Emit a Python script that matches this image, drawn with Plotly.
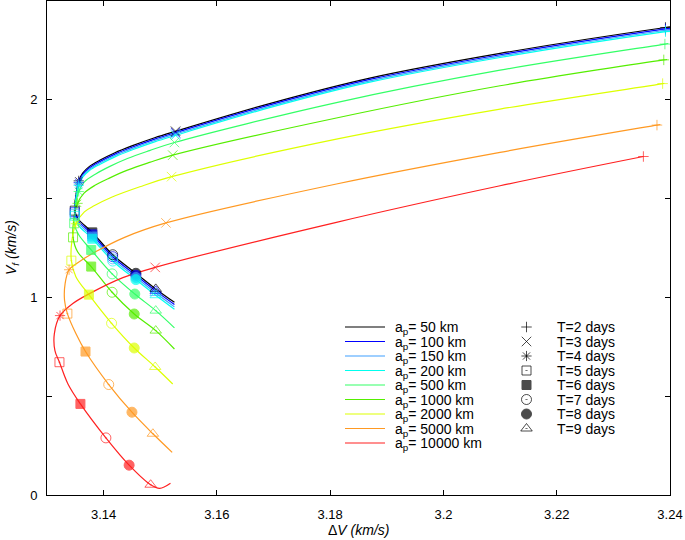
import plotly.graph_objects as go

# ---------------- data ----------------
ap_labels = ["50", "100", "150", "200", "500", "1000", "2000", "5000", "10000"]
line_colors = ["#000000", "#0000ff", "#3fa0ff", "#00ffee", "#33ff66",
               "#55ee00", "#ddff00", "#ff9922", "#ff2020"]
t_labels = ["T=2 days", "T=3 days", "T=4 days", "T=5 days",
            "T=6 days", "T=7 days", "T=8 days", "T=9 days"]
t_symbols = ["cross-thin-open", "x-thin-open", "asterisk-open", "square-open-dot",
             "square", "circle-open-dot", "circle", "triangle-up-open-dot"]

# curves (DeltaV, Vf); a_p = 50 ... 200 km share the same DeltaV samples
dv_top = [3.2400, 3.2392, 3.2100, 3.1870, 3.1693, 3.1527, 3.1490, 3.1451, 3.1419, 3.1393,
          3.1375, 3.1363, 3.1356, 3.1351, 3.1349, 3.1355, 3.1380, 3.1416, 3.1457, 3.1492,
          3.1525]
vf_50 = [2.369, 2.366, 2.235, 2.110, 1.981, 1.841, 1.808, 1.768, 1.731, 1.694,
         1.663, 1.629, 1.590, 1.515, 1.439, 1.398, 1.329, 1.216, 1.122, 1.043, 0.975]
vf_100 = [2.362, 2.359, 2.228, 2.103, 1.974, 1.834, 1.801, 1.761, 1.724, 1.687,
          1.656, 1.622, 1.582, 1.507, 1.431, 1.389, 1.319, 1.206, 1.112, 1.033, 0.964]
vf_150 = [2.355, 2.352, 2.221, 2.096, 1.967, 1.827, 1.794, 1.754, 1.717, 1.680,
          1.649, 1.615, 1.574, 1.499, 1.423, 1.379, 1.308, 1.195, 1.101, 1.022, 0.952]
vf_200 = [2.348, 2.345, 2.214, 2.089, 1.960, 1.820, 1.787, 1.747, 1.710, 1.673,
          1.642, 1.608, 1.566, 1.490, 1.413, 1.367, 1.297, 1.184, 1.090, 1.011, 0.940]

dv_500 = [3.2397, 3.2391, 3.2100, 3.1811, 3.1525, 3.1481, 3.1442, 3.1411, 3.1386, 3.1366,
          3.1356, 3.1350, 3.1348, 3.1356, 3.1378, 3.1415, 3.1455, 3.1492, 3.1525]
vf_500 = [2.285, 2.282, 2.150, 1.986, 1.784, 1.743, 1.703, 1.663, 1.625, 1.585,
          1.536, 1.454, 1.375, 1.317, 1.240, 1.119, 1.017, 0.933, 0.846]

dv_1000 = [3.2395, 3.2389, 3.2100, 3.1811, 3.1522, 3.1481, 3.1442, 3.1411, 3.1384, 3.1365,
           3.1354, 3.1347, 3.1346, 3.1354, 3.1378, 3.1415, 3.1454, 3.1492, 3.1525]
vf_1000 = [2.204, 2.202, 2.071, 1.908, 1.720, 1.683, 1.644, 1.605, 1.566, 1.526,
           1.476, 1.388, 1.304, 1.231, 1.156, 1.026, 0.916, 0.832, 0.739]

dv_2000 = [3.2390, 3.2387, 3.2100, 3.1811, 3.1520, 3.1464, 3.1414, 3.1384, 3.1366,
           3.1351, 3.1344, 3.1343, 3.1351, 3.1374, 3.1414, 3.1454, 3.1491, 3.1522]
vf_2000 = [2.084, 2.082, 1.953, 1.801, 1.611, 1.560, 1.507, 1.465, 1.433,
           1.373, 1.287, 1.186, 1.105, 1.014, 0.869, 0.744, 0.648, 0.562]

dv_5000 = [3.2383, 3.2377, 3.2100, 3.1811, 3.1510, 3.1437, 3.1384, 3.1355, 3.1339,
           3.1332, 3.1331, 3.1336, 3.1351, 3.1368, 3.1409, 3.1450, 3.1487, 3.1521]
vf_5000 = [1.875, 1.872, 1.734, 1.574, 1.377, 1.304, 1.228, 1.177, 1.140,
           1.070, 0.984, 0.918, 0.817, 0.726, 0.559, 0.419, 0.310, 0.216]

dv_10000 = [3.2353, 3.2100, 3.1811, 3.1491, 3.1434, 3.1375, 3.1345, 3.1323, 3.1313,
            3.1314, 3.1322, 3.1337, 3.1359, 3.1404, 3.1445, 3.1483, 3.1499, 3.1518]
vf_10000 = [1.713, 1.565, 1.380, 1.152, 1.100, 1.019, 0.968, 0.908, 0.817,
            0.731, 0.672, 0.562, 0.461, 0.289, 0.151, 0.052, 0.034, 0.060]

# marker points at T = 2 ... 9 days
mdv_top = [3.2392, 3.1527, 3.1356, 3.1349, 3.1380, 3.1416, 3.1457, 3.1492]
mvf_50 = [2.366, 1.841, 1.590, 1.439, 1.329, 1.216, 1.122, 1.043]
mvf_100 = [2.359, 1.834, 1.582, 1.431, 1.319, 1.206, 1.112, 1.033]
mvf_150 = [2.352, 1.827, 1.574, 1.423, 1.308, 1.195, 1.101, 1.022]
mvf_200 = [2.345, 1.820, 1.566, 1.413, 1.297, 1.184, 1.090, 1.011]
mdv_500 = [3.2391, 3.1525, 3.1356, 3.1348, 3.1378, 3.1415, 3.1455, 3.1492]
mvf_500 = [2.282, 1.784, 1.536, 1.375, 1.240, 1.119, 1.017, 0.933]
mdv_1000 = [3.2389, 3.1522, 3.1354, 3.1346, 3.1378, 3.1415, 3.1454, 3.1492]
mvf_1000 = [2.202, 1.720, 1.476, 1.304, 1.156, 1.026, 0.916, 0.832]
mdv_2000 = [3.2387, 3.1520, 3.1351, 3.1343, 3.1374, 3.1414, 3.1454, 3.1491]
mvf_2000 = [2.082, 1.611, 1.373, 1.186, 1.014, 0.869, 0.744, 0.648]
mdv_5000 = [3.2377, 3.1510, 3.1339, 3.1336, 3.1368, 3.1409, 3.1450, 3.1487]
mvf_5000 = [1.872, 1.377, 1.140, 0.918, 0.726, 0.559, 0.419, 0.310]
mdv_10000 = [3.2353, 3.1491, 3.1323, 3.1322, 3.1359, 3.1404, 3.1445, 3.1483]
mvf_10000 = [1.713, 1.152, 0.908, 0.672, 0.461, 0.289, 0.151, 0.052]

x_ticks = [3.14, 3.16, 3.18, 3.20, 3.22, 3.24]
x_ticktext = ["3.14", "3.16", "3.18", "3.2", "3.22", "3.24"]
y_ticks = [0, 0.5, 1, 1.5, 2, 2.5]
y_ticktext = ["0", "", "1", "", "2", ""]

curves = [
    (dv_top, vf_50, mdv_top, mvf_50),
    (dv_top, vf_100, mdv_top, mvf_100),
    (dv_top, vf_150, mdv_top, mvf_150),
    (dv_top, vf_200, mdv_top, mvf_200),
    (dv_500, vf_500, mdv_500, mvf_500),
    (dv_1000, vf_1000, mdv_1000, mvf_1000),
    (dv_2000, vf_2000, mdv_2000, mvf_2000),
    (dv_5000, vf_5000, mdv_5000, mvf_5000),
    (dv_10000, vf_10000, mdv_10000, mvf_10000),
]

# ---------------- figure ----------------
W, H = 685, 540
ML, MR, MT, MB = 47, 15, 1, 45
FONT = "Liberation Sans, Arial, Helvetica, sans-serif"
marker_sizes = [7.5, 9.5, 8.5, 9, 9, 10, 10, 10]

fig = go.Figure()

for (cx, cy, mx, my), col in zip(curves, line_colors):
    fig.add_trace(go.Scatter(
        x=cx, y=cy, mode="lines",
        line=dict(color=col, width=1.2, shape="spline", smoothing=1.0),
        showlegend=False, hoverinfo="skip"))
for (cx, cy, mx, my), col in zip(curves, line_colors):
    fig.add_trace(go.Scatter(
        x=mx, y=my, mode="markers",
        marker=dict(symbol=t_symbols, size=marker_sizes,
                    color=col, line=dict(color=col, width=1)),
        showlegend=False, hoverinfo="skip", cliponaxis=False))

# ---- manual key, drawn on an overlay axis measured in page pixels ----
row0, row_step = 327.0, 14.5
key_line_x0, key_line_x1, key_text_x = 345, 385, 393
key_mark_x, key_mark_text_x = 526.5, 555

for i, (lab, col) in enumerate(zip(ap_labels, line_colors)):
    yy = row0 + i * row_step
    fig.add_trace(go.Scatter(
        x=[key_line_x0, key_line_x1], y=[yy, yy], xaxis="x2", yaxis="y2",
        mode="lines", line=dict(color=col, width=1.2),
        showlegend=False, hoverinfo="skip"))
    fig.add_annotation(x=key_text_x, y=yy, xref="x2", yref="y2",
                       text="a<sub>p</sub>= %s km" % lab, showarrow=False,
                       xanchor="left", yanchor="middle", yshift=-1,
                       font=dict(family=FONT, size=14, color="black"))

key_y = [row0 + i * row_step for i in range(len(t_labels))]
fig.add_trace(go.Scatter(
    x=[key_mark_x] * len(t_labels), y=key_y, xaxis="x2", yaxis="y2",
    mode="markers",
    marker=dict(symbol=t_symbols, size=marker_sizes,
                color="black", line=dict(color="black", width=1)),
    showlegend=False, hoverinfo="skip"))
for yy, lab in zip(key_y, t_labels):
    fig.add_annotation(x=key_mark_text_x, y=yy, xref="x2", yref="y2",
                       text=lab, showarrow=False, xanchor="left", yanchor="middle",
                       font=dict(family=FONT, size=14, color="black"))

# axis titles
plot_w = W - ML - MR
plot_h = H - MT - MB
fig.add_annotation(x=0.5, y=-(530 - (H - MB)) / plot_h, xref="paper", yref="paper",
                   text="Δ<i>V (km/s)</i>", showarrow=False,
                   xanchor="center", yanchor="middle",
                   font=dict(family=FONT, size=14, color="black"))
fig.add_annotation(x=-(ML - 12) / plot_w, y=0.5, xref="paper", yref="paper",
                   text="<i>V<sub>f</sub> (km/s)</i>", showarrow=False, textangle=-90,
                   xanchor="center", yanchor="middle",
                   font=dict(family=FONT, size=14, color="black"))

axis_common = dict(showline=True, linecolor="black", linewidth=1, mirror="ticks",
                   ticks="inside", ticklen=5, tickwidth=1, tickcolor="black",
                   showgrid=False, zeroline=False,
                   tickfont=dict(family=FONT, size=13, color="black"))

fig.update_layout(
    width=W, height=H,
    margin=dict(l=ML, r=MR, t=MT, b=MB, pad=0),
    paper_bgcolor="white", plot_bgcolor="white",
    showlegend=False,
    xaxis=dict(range=[3.13, 3.24], tickvals=x_ticks, ticktext=x_ticktext,
               ticklabelstandoff=7, **axis_common),
    yaxis=dict(range=[0, 2.5], tickvals=y_ticks, ticktext=y_ticktext,
               ticklabelstandoff=6, **axis_common),
    xaxis2=dict(range=[ML, W - MR], overlaying="x", anchor="y2", visible=False,
                fixedrange=True),
    yaxis2=dict(range=[H - MB, MT], overlaying="y", anchor="x2", visible=False,
                fixedrange=True),
)

fig.write_html(
    "out.html",
    config={"displayModeBar": False},
    post_script="document.body.style.margin='0';document.body.style.padding='0';"
                "document.documentElement.style.overflow='hidden';",
)
